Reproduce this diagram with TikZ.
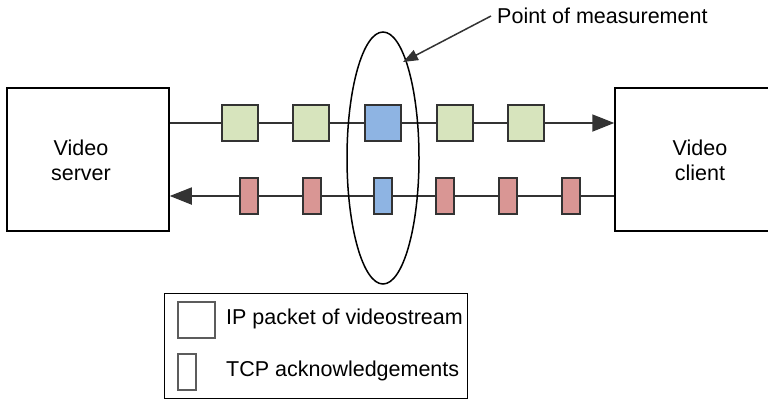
\documentclass[tikz,border=0pt]{standalone}
\usepackage{fontspec}
\setmainfont{Liberation Sans}
\usetikzlibrary{arrows.meta,shapes.geometric}
\definecolor{pgreen}{HTML}{D7E4BD}
\definecolor{pblue}{HTML}{8EB4E3}
\definecolor{pred}{HTML}{D99694}
\definecolor{pline}{HTML}{333333}
\begin{document}
\begin{tikzpicture}[x=1pt,y=-1pt,
  txt/.style={font=\fontsize{21.5}{25}\selectfont, inner sep=0pt},
  endbox/.style={draw=black, line width=1.5pt, minimum height=143pt, inner sep=0pt},
  bigpkt/.style={draw=pline, line width=2pt, minimum width=36pt, minimum height=36pt, inner sep=0pt},
  smallpkt/.style={draw=pline, line width=2pt, minimum width=18pt, minimum height=36pt, inner sep=0pt},
  flow/.style={draw=pline, line width=1.8pt},
  legbig/.style={draw=pline!80, line width=1.5pt, minimum width=37pt, minimum height=36pt, inner sep=0pt},
  legsmall/.style={draw=pline!80, line width=1.5pt, minimum width=18pt, minimum height=36pt, inner sep=0pt}]
\useasboundingbox (0,0) rectangle (768,400);
\clip (0,0) rectangle (768,400);
% end boxes
\node[endbox, minimum width=162pt] (server) at (88,159.5) {};
\node[txt, align=center] (servertext) at (81,160.5) {Video\\server};
\node[endbox, minimum width=168pt] (client) at (699,159.5) {};
\node[txt, align=center] (clienttext) at (700,160.5) {Video\\client};
% flow ends
\coordinate (ts) at (server.east |- 0,123);
\coordinate (tc) at (client.west |- 0,123);
\coordinate (bs) at (server.east |- 0,196);
\coordinate (bc) at (client.west |- 0,196);
% lines
\draw[flow, -{Triangle[length=22pt,width=17pt]}] (ts) -- (tc);
\draw[flow, -{Triangle[length=22pt,width=17pt]}] (bc) -- (bs);
% ellipse
\node[draw=black, line width=1.5pt, ellipse, minimum width=72pt, minimum height=252pt, inner sep=0pt] (meas) at (383,158) {};
% video packets
\node[bigpkt, fill=pgreen] (v1) at (240,123) {};
\node[bigpkt, fill=pgreen] (v2) at (311,123) {};
\node[bigpkt, fill=pblue]  (v3) at (383,123) {};
\node[bigpkt, fill=pgreen] (v4) at (455,123) {};
\node[bigpkt, fill=pgreen] (v5) at (526,123) {};
% acks
\node[smallpkt, fill=pred]  (a1) at (249,196) {};
\node[smallpkt, fill=pred]  (a2) at (311.5,196) {};
\node[smallpkt, fill=pblue] (a3) at (382.5,196) {};
\node[smallpkt, fill=pred]  (a4) at (445,196) {};
\node[smallpkt, fill=pred]  (a5) at (508,196) {};
\node[smallpkt, fill=pred]  (a6) at (571,196) {};
% label
\node[txt, anchor=west] (lab) at (497,16) {Point of measurement};
\coordinate (tip) at (403,62);
\draw[draw=pline, line width=1.5pt, -{Triangle[length=15pt,width=11pt]}] (lab.west) ++(-6,0) coordinate (labstart) (labstart) -- (tip);
% legend
\node[draw=black, line width=1pt, minimum width=303pt, minimum height=105pt, inner sep=0pt] (legend) at (315.5,345.5) {};
\node[legbig] (lb) at (196.5,320) {};
\node[legsmall] (ls) at (187,372) {};
\node[txt, anchor=west] (lt1) at (226,319) {IP packet of videostream};
\node[txt, anchor=west] (lt2) at (226,371) {TCP acknowledgements};
\end{tikzpicture}
\end{document}
